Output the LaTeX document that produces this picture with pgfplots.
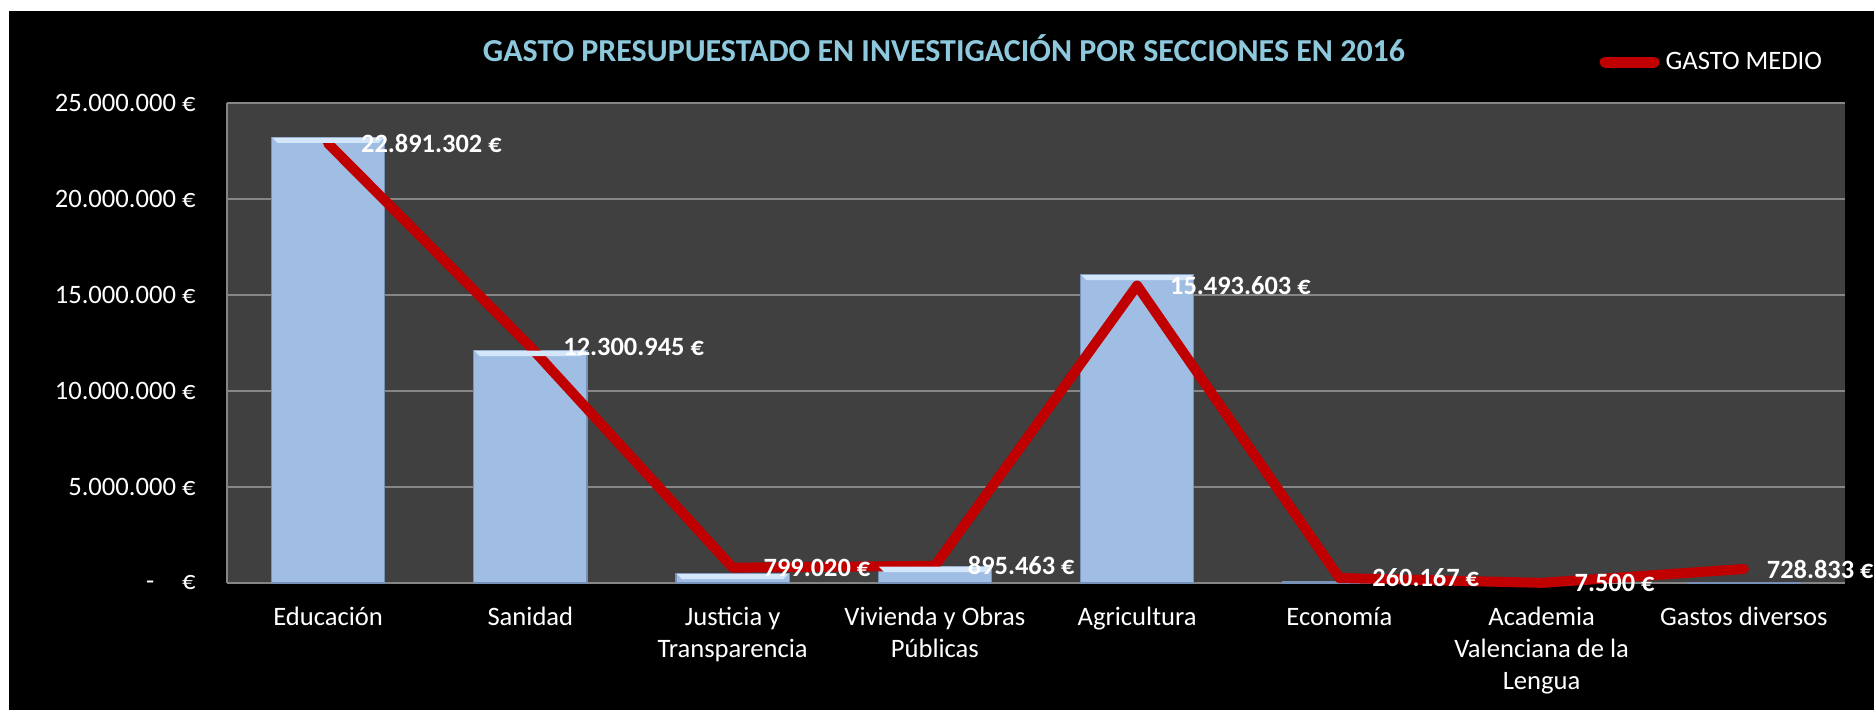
\documentclass[border=0pt]{standalone}
\usepackage{pgfplots}
\pgfplotsset{compat=1.18}
\usepackage{fontspec}
\setmainfont{Carlito}
\definecolor{plotbg}{RGB}{64,64,64}
\definecolor{gridc}{RGB}{134,134,134}
\definecolor{barc}{RGB}{160,189,228}
\definecolor{barlight}{RGB}{212,230,249}
\definecolor{baredge}{RGB}{120,145,185}
\definecolor{linec}{RGB}{192,0,0}
\definecolor{titlec}{RGB}{141,200,220}
\pgfdeclareplotmark{bevel}{%
  \pgfpathmoveto{\pgfpoint{-28pt}{0pt}}%
  \pgfpathlineto{\pgfpoint{28pt}{0pt}}%
  \pgfpathlineto{\pgfpoint{25.3pt}{-2.7pt}}%
  \pgfpathlineto{\pgfpoint{-25.3pt}{-2.7pt}}%
  \pgfpathclose
  \pgfusepath{fill}}
\begin{document}
\begin{tikzpicture}[x=1pt,y=1pt]
\useasboundingbox (0,0) rectangle (937,355);
\fill[white] (0,0) rectangle (937,355);
\fill[black] (4.5,0) rectangle (937,349.5);
\node[font=\bfseries\fontsize{16}{19}\selectfont, text=titlec] at (472,331) {GASTO PRESUPUESTADO EN INVESTIGACIÓN POR SECCIONES EN 2016};
\begin{axis}[
  at={(113.5pt,63.5pt)}, anchor=south west,
  scale only axis, width=809pt, height=240pt,
  xmin=-0.5, xmax=7.5, ymin=0, ymax=25000000,
  clip=false,
  scaled y ticks=false,
  axis background/.style={fill=plotbg},
  axis x line*=bottom, axis y line*=left,
  axis line style={draw=gridc, line width=0.8pt},
  ymajorgrids, grid style={draw=gridc, line width=0.8pt},
  major tick length=0pt,
  ytick={0,5000000,10000000,15000000,20000000,25000000},
  yticklabels={{-\hspace{1.05em}€},{5.000.000 €},{10.000.000 €},{15.000.000 €},{20.000.000 €},{25.000.000 €}},
  yticklabel style={anchor=east, inner sep=0pt, xshift=-15.5pt, text=white, font=\fontsize{13.3}{16}\selectfont},
  xtick={0,1,2,3,4,5,6,7},
  xticklabels={Educación, Sanidad, {Justicia y\\Transparencia}, {Vivienda y Obras\\Públicas}, Agricultura, Economía, {Academia\\Valenciana de la\\Lengua}, Gastos diversos},
  xticklabel style={anchor=north, align=center, inner sep=0pt, yshift=-12pt, text=white, font=\fontsize{13.3}{16}\selectfont},
  legend style={at={(axis description cs:0.845,1.085)}, anchor=west, draw=none, fill=none, inner sep=0pt, text=white, font=\fontsize{13.3}{16}\selectfont, nodes={inner sep=0.5pt}, /tikz/every even column/.append style={column sep=0pt}},
  legend image code/.code={\path (0pt,0pt) (30pt,0pt); \draw[linec, line width=5.5pt, line cap=round] (2.75pt,0pt) -- (27.25pt,0pt);},
]
\addplot[ybar, bar width=0.56, fill=barc, draw=baredge, line width=0.6pt, forget plot] coordinates {
  (0,23200000) (1,12100000) (2,480000) (3,850000) (4,16050000) (5,80000) (6,10000) (7,0)
};
% bevel highlight on the top edge of the visible bars
\addplot[only marks, mark=bevel, mark options={fill=barlight, draw=none}, forget plot] coordinates {
  (0,23200000) (1,12100000) (2,480000) (3,850000) (4,16050000)
};
\addplot[linec, line width=5pt, line cap=round, line join=round,
  point meta=explicit symbolic, nodes near coords,
  visualization depends on={value \thisrow{sh}\as\sh},
  nodes near coords style={anchor=west, xshift=\sh pt, inner sep=0pt, text=white, font=\bfseries\fontsize{13.2}{16}\selectfont}]
table[col sep=comma, x=x, y=y, meta=lab] {
x,y,sh,lab
0,22891302,14,22.891.302 €
1,12300945,14,12.300.945 €
2,799020,13,799.020 €
3,895463,14,895.463 €
4,15493603,14,15.493.603 €
5,260167,14,260.167 €
6,7500,14,7.500 €
7,728833,9,728.833 €
};
\addlegendentry{GASTO MEDIO}
\end{axis}
\end{tikzpicture}
\end{document}
